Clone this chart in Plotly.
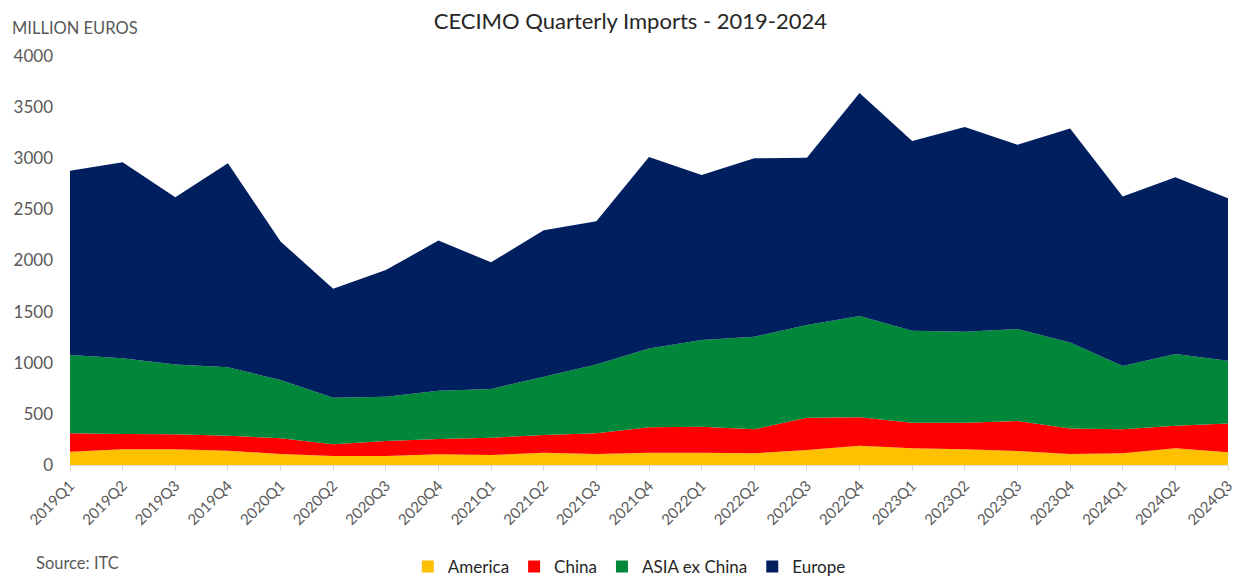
import plotly.graph_objects as go

# Quarterly imports by origin region, million euros
quarters = [
    "2019Q1", "2019Q2", "2019Q3", "2019Q4",
    "2020Q1", "2020Q2", "2020Q3", "2020Q4",
    "2021Q1", "2021Q2", "2021Q3", "2021Q4",
    "2022Q1", "2022Q2", "2022Q3", "2022Q4",
    "2023Q1", "2023Q2", "2023Q3", "2023Q4",
    "2024Q1", "2024Q2", "2024Q3",
]
america = [130, 153, 153, 140, 108, 88, 88, 104, 98, 121, 108, 121,
           121, 114, 147, 189, 163, 153, 137, 108, 114, 163, 124]
china = [180, 150, 147, 147, 153, 114, 147, 150, 169, 172, 202, 247,
         254, 235, 316, 277, 251, 261, 293, 250, 235, 222, 283]
asia_ex_china = [765, 740, 684, 668, 570, 456, 433, 472, 476, 570, 674, 772,
                 847, 905, 906, 991, 899, 889, 899, 841, 619, 700, 613]
europe = [1802, 1919, 1634, 1995, 1355, 1066, 1238, 1469, 1239, 1434, 1401, 1872,
          1613, 1746, 1637, 2181, 1855, 2002, 1802, 2093, 1658, 1728, 1588]

series = [
    ("America", america, "#FFC000"),
    ("China", china, "#FF0000"),
    ("ASIA ex China", asia_ex_china, "#00873A"),
    ("Europe", europe, "#001F5F"),
]

FONT = "Lato"
GREY = "#595959"

fig = go.Figure()
for name, values, color in series:
    fig.add_trace(go.Scatter(
        x=quarters, y=values, name=name,
        stackgroup="one", mode="none",
        fillcolor=color, line=dict(width=0),
        showlegend=False,
    ))

# Square legend keys
for name, values, color in series:
    fig.add_trace(go.Scatter(
        x=[None], y=[None], name=name, mode="markers",
        marker=dict(symbol="square", size=12, color=color),
        showlegend=True, hoverinfo="skip",
    ))

fig.update_layout(
    width=1236, height=579,
    margin=dict(l=70, r=8, t=56, b=114, autoexpand=False),
    paper_bgcolor="white", plot_bgcolor="white",
    font=dict(family=FONT, color=GREY),
    title=dict(
        text="CECIMO Quarterly Imports - 2019-2024",
        x=0.51, xanchor="center", y=0.963, yanchor="middle",
        font=dict(family=FONT, size=22, color="#262626"),
    ),
    showlegend=True,
    legend=dict(
        orientation="h", x=0.483, xanchor="center",
        y=-0.205, yanchor="top", traceorder="normal",
        font=dict(family=FONT, size=17, color="#262626"),
        itemwidth=30, tracegroupgap=0,
    ),
    xaxis=dict(
        type="category", range=[0, len(quarters) - 1],
        tickangle=-45, tickfont=dict(size=15, color=GREY),
        showgrid=False, showline=True, linecolor="#D9D9D9", linewidth=1,
        ticks="outside", ticklen=5, tickcolor="#D9D9D9",
        automargin=False,
    ),
    yaxis=dict(
        range=[0, 4000], dtick=500, tick0=0,
        tickfont=dict(size=17, color=GREY),
        showgrid=False, zeroline=False, showline=False,
        ticklabelstandoff=16, automargin=False,
    ),
    annotations=[
        dict(text="MILLION EUROS", xref="paper", yref="paper",
             x=-0.052, xanchor="left", y=1.068, yanchor="middle",
             showarrow=False, font=dict(family=FONT, size=16.5, color=GREY)),
        dict(text="Source: ITC", xref="paper", yref="paper",
             x=-0.031, xanchor="left", y=-0.24, yanchor="middle",
             showarrow=False, font=dict(family=FONT, size=16.5, color=GREY)),
    ],
)

fig.write_html("out.html")
